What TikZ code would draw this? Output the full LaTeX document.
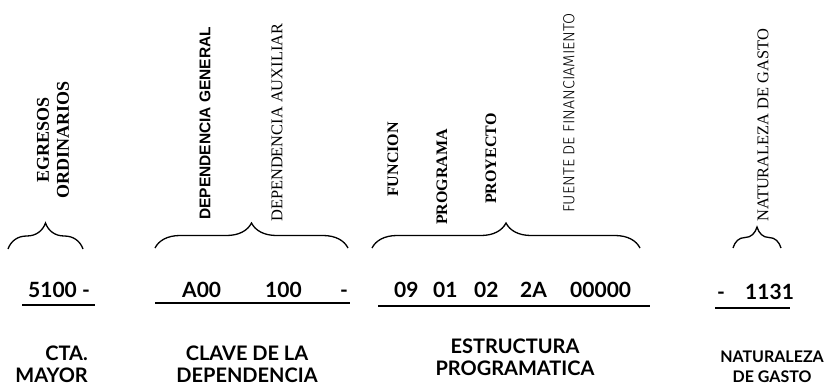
\documentclass[tikz,border=0pt]{standalone}
\usepackage{fontspec}
\setmainfont{Liberation Serif}
\newfontfamily\labelfont{Lato}
\newfontfamily\arialfont{Liberation Sans}
\newfontfamily\thinfont{Fira Sans Light}
\usetikzlibrary{decorations.pathreplacing}

\begin{document}
\begin{tikzpicture}[x=1pt,y=-1pt,
    vlabel/.style={rotate=90,anchor=west,inner sep=0pt},
    code/.style={anchor=base west,inner sep=0pt,font=\labelfont\bfseries\fontsize{21}{21}\selectfont},
    caption/.style={align=center,anchor=north,inner sep=0pt,font=\labelfont\bfseries\fontsize{20}{22}\selectfont},
    curly/.style={decorate,decoration={brace,amplitude=#1},line width=1.3pt},
    rule/.style={line width=1.4pt}]
    \useasboundingbox[fill=white] (0,0) rectangle (826,388);
    % rotated headings
    \node[vlabel,align=center,font=\bfseries\fontsize{18}{20}\selectfont] (egresos) at (53,199) {EGRESOS\\ORDINARIOS};
    \node[vlabel,font=\arialfont\bfseries\fontsize{15.5}{16}\selectfont] (depgen) at (205,220) {DEPENDENCIA GENERAL};
    \node[vlabel,font=\fontsize{16.4}{17}\selectfont] (depaux) at (277,222) {DEPENDENCIA AUXILIAR};
    \node[vlabel,font=\bfseries\fontsize{16}{17}\selectfont] (funcion) at (393,197) {FUNCION};
    \node[vlabel,font=\bfseries\fontsize{16}{17}\selectfont] (programa) at (442,225) {PROGRAMA};
    \node[vlabel,font=\bfseries\fontsize{16}{17}\selectfont] (proyecto) at (491,204) {PROYECTO};
    \node[vlabel,font=\thinfont\fontsize{16}{17}\selectfont] (fuente) at (569,213) {FUENTE DE FINANCIAMIENTO};
    \node[vlabel,font=\fontsize{16.4}{17}\selectfont] (naturaleza) at (763,222) {NATURALEZA DE GASTO};
    % braces
    \coordinate (b1l) at (8,249);
    \coordinate (b1r) at (83,249);
    \coordinate (b2l) at (155,248);
    \coordinate (b2r) at (348,248);
    \coordinate (b3l) at (372,248);
    \coordinate (b3r) at (640,248);
    \coordinate (b4l) at (733,248);
    \coordinate (b4r) at (781,248);
    \draw[curly=26] (b1l) -- (b1r);
    \draw[curly=25] (b2l) -- (b2r);
    \draw[curly=25] (b3l) -- (b3r);
    \draw[curly=21] (b4l) -- (b4r);
    % code digits
    \node[code] (mayor) at (28,297) {5100 -};
    \node[code] (adep) at (182,297) {A00};
    \node[code] (bdep) at (265,297) {100};
    \node[code] (cdash) at (340,297) {-};
    \node[code] (func) at (394,297) {09};
    \node[code] (prog) at (433,297) {01};
    \node[code] (proy) at (474,297) {02};
    \node[code] (fin) at (520,297) {2A};
    \node[code] (fte) at (570,297) {00000};
    \node[code] (ndash) at (717,299) {-};
    \node[code] (ngasto) at (745,299) {1131};
    % underlines
    \coordinate (u1l) at (22,305);
    \coordinate (u1r) at (95,305);
    \coordinate (u2l) at (155,303);
    \coordinate (u2r) at (350,303);
    \coordinate (u3l) at (378,306);
    \coordinate (u3r) at (650,306);
    \coordinate (u4l) at (715,308);
    \coordinate (u4r) at (790,308);
    \draw[rule] (u1l) -- (u1r);
    \draw[rule] (u2l) -- (u2r);
    \draw[rule] (u3l) -- (u3r);
    \draw[rule] (u4l) -- (u4r);
    % captions
    \node[caption,align=right,anchor=north east] (ctamayor) at (88,346) {CTA.\\MAYOR};
    \node[caption] (clave) at (247,346) {CLAVE DE LA\\DEPENDENCIA};
    \node[caption] (estructura) at (515,339) {ESTRUCTURA\\PROGRAMATICA};
    \node[caption,font=\labelfont\bfseries\fontsize{16}{20}\selectfont] (natgasto) at (772,351) {NATURALEZA\\DE GASTO};
\end{tikzpicture}
\end{document}
